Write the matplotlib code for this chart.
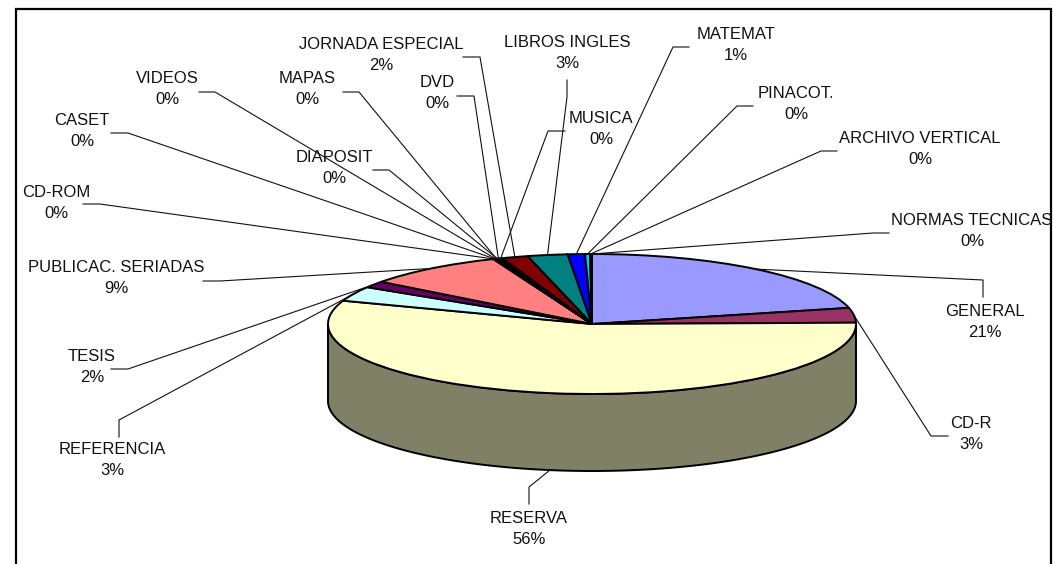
import numpy as np
import matplotlib
matplotlib.use("Agg")
import matplotlib.pyplot as plt
from matplotlib.colors import to_rgb

plt.rcParams['font.family'] = ['Liberation Sans', 'DejaVu Sans']

categories = ["GENERAL", "CD-R", "RESERVA", "REFERENCIA", "TESIS", "PUBLICAC. SERIADAS",
              "CD-ROM", "CASET", "VIDEOS", "MAPAS", "DIAPOSIT", "DVD", "MUSICA",
              "JORNADA ESPECIAL", "LIBROS INGLES", "MATEMAT", "PINACOT.",
              "ARCHIVO VERTICAL", "NORMAS TECNICAS"]
values = [21.3, 3.4, 55.7, 3.4, 1.5, 8.6,
          0.08, 0.05, 0.05, 0.05, 0.05, 0.1, 0.2,
          1.6, 2.45, 1.05, 0.3, 0.06, 0.06]
pct_labels = ["21%", "3%", "56%", "3%", "2%", "9%",
              "0%", "0%", "0%", "0%", "0%", "0%", "0%",
              "2%", "3%", "1%", "0%", "0%", "0%"]
colors = ["#9999FF", "#993366", "#FFFFCC", "#CCFFFF", "#660066", "#FF8080",
          "#0066CC", "#CCCCFF", "#000080", "#FF00FF", "#FFFF00", "#00FFFF", "#800080",
          "#800000", "#008080", "#0000FF", "#00CCFF", "#CCFFFF", "#CCFFCC"]

# layout, in image pixels
W, H = 1053, 564
CX, CY, RX, RY, DEPTH = 592, 324, 264, 70, 77
label_pos = [(985, 322), (971, 434), (529, 529), (112, 460), (92, 367), (116, 278),
             (56, 203), (82, 131), (167, 89), (307, 89), (334, 168), (437, 93), (601, 129),
             (381, 55), (567, 53), (736, 45), (796, 104), (920, 149), (972, 231)]
leader_pts = [[(983, 297), (983, 280)], [(948, 436), (931, 436)], [(529, 504), (529, 487)],
              [(119, 437), (119, 420)], [(111, 369), (128, 369)], [(203, 281), (220, 281)],
              [(83, 204), (100, 204)], [(111, 133), (128, 133)], [(199, 92), (215, 92)],
              [(343, 92), (359, 92)], [(373, 170), (389, 170)], [(457, 96), (474, 96)],
              [(565, 131), (548, 131)], [(463, 57), (480, 57)], [(567, 80), (567, 97)],
              [(689, 47), (673, 47)], [(753, 106), (737, 106)], [(837, 151), (821, 151)],
              [(889, 233), (873, 233)]]

fig = plt.figure(figsize=(W / 100, H / 100), dpi=100, facecolor="white")

# Pie axes: one data unit = the ellipse radius along each direction
ax = fig.add_axes([0, 0, 1, 1])
ax.pie(values, colors=colors, startangle=90, counterclock=False, radius=1, center=(0, 0),
       wedgeprops=dict(edgecolor="black", linewidth=1.4, zorder=3))
ax.set_aspect("auto")
ax.set_xlim(-CX / RX, (W - CX) / RX)
ax.set_ylim(-(H - CY) / RY, CY / RY)
ax.axis("off")

# Side wall of the front half, one piece per slice
vals = np.array(values, dtype=float)
fracs = vals / vals.sum()
edges = np.concatenate([[0], np.cumsum(fracs)]) * 360
depth_u = DEPTH / RY
for lo, hi, col in zip(edges[:-1], edges[1:], colors):
    a, b = max(lo, 90), min(hi, 270)
    if b <= a:
        continue
    th = np.radians(np.linspace(a, b, 200))
    xs, ys = np.sin(th), np.cos(th)
    side = tuple(c * 0.5 for c in to_rgb(col))
    ax.fill(np.r_[xs, xs[::-1]], np.r_[ys, ys[::-1] - depth_u],
            facecolor=side, edgecolor="black", linewidth=1.4, zorder=2)

# Overlay in image pixels for labels, leaders and frame
ov = fig.add_axes([0, 0, 1, 1], facecolor="none")
ov.set_xlim(0, W)
ov.set_ylim(H, 0)
ov.axis("off")

ov.plot([15.5, 15.5, 1051, 1051], [H + 5, 8.5, 8.5, H + 5], color="black", lw=1.6,
        solid_joinstyle="miter", clip_on=False, zorder=1)

mids = (edges[:-1] + edges[1:]) / 2
for i, (name, pct) in enumerate(zip(categories, pct_labels)):
    th = np.radians(mids[i])
    ex = CX + RX * np.sin(th)
    ey = CY - RY * np.cos(th)
    if 90 < mids[i] < 270:
        ey += DEPTH
    pts = leader_pts[i] + [(ex, ey)]
    ov.plot([p[0] for p in pts], [p[1] for p in pts], color="#111111", lw=0.8, zorder=4)
    ov.text(label_pos[i][0], label_pos[i][1], f"{name}\n{pct}", ha="center", va="center",
            fontsize=12, linespacing=1.47, color="#111111", zorder=5)

fig.savefig("out.png", dpi=100)
